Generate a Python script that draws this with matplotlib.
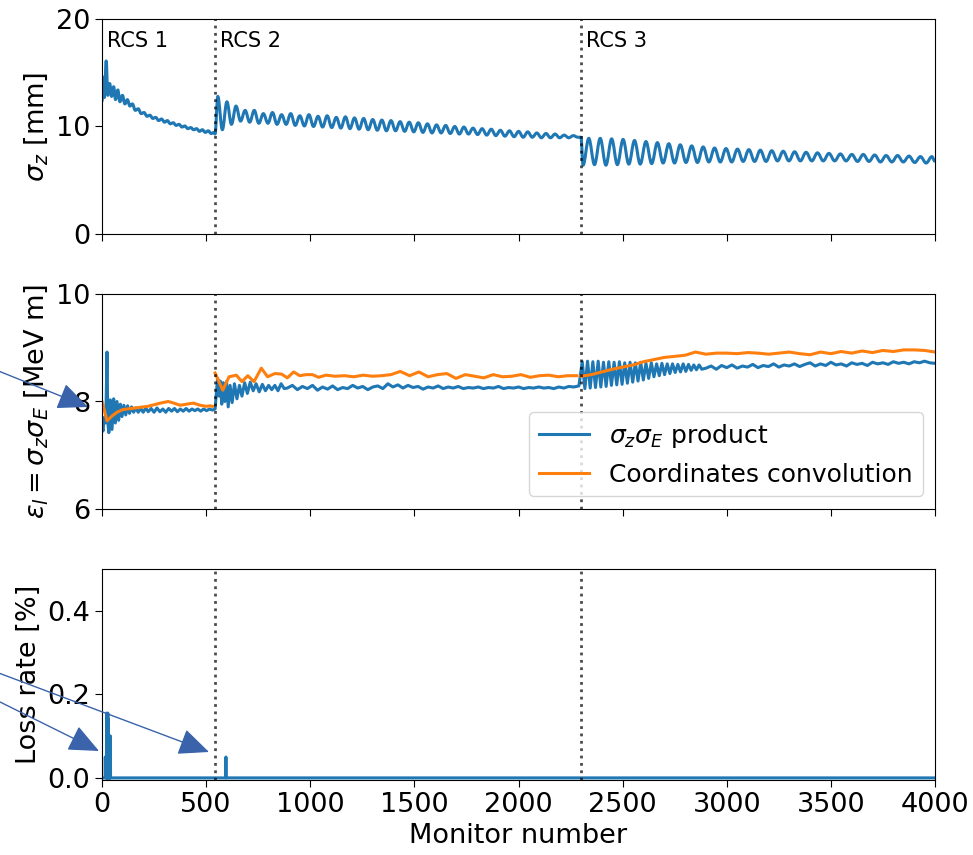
import numpy as np
import matplotlib
matplotlib.use('Agg')
import matplotlib.pyplot as plt
from matplotlib.patches import FancyArrowPatch, PathPatch
from matplotlib.path import Path

# ring boundaries (monitor number)
rcs_start = [0, 543, 2300]
rcs_names = ['RCS 1', 'RCS 2', 'RCS 3']

# sigma_z [mm], RCS 1 read point by point
sz1_x = [0, 6, 12, 20, 28, 37, 46, 56, 65, 76, 86, 98, 110, 122, 134, 146, 160, 174,
         188, 202, 216, 230, 244, 258, 272, 286, 300, 314, 328, 342, 356, 370, 384,
         398, 412, 426, 440, 454, 468, 482, 496, 510, 524, 538, 543]
sz1_y = [12.3, 14.6, 12.7, 16.1, 12.9, 14.0, 12.8, 13.7, 12.5, 13.4, 12.3, 12.9, 12.1,
         12.5, 11.9, 12.1, 11.5, 11.65, 11.2, 11.3, 10.95, 11.05, 10.75, 10.85, 10.55,
         10.7, 10.4, 10.55, 10.25, 10.35, 10.1, 10.2, 9.95, 10.05, 9.8, 9.9, 9.7, 9.8,
         9.55, 9.7, 9.45, 9.6, 9.35, 9.45, 9.3]
# RCS 2: oscillation extrema between monitors 556 and 2285
sz2_peaks = [12.8, 12.3, 11.9, 11.5, 11.5, 11.2, 11.3, 11.1, 11.2, 11.0, 11.1, 10.95, 11.0,
             10.85, 10.9, 10.8, 10.75, 10.65, 10.6, 10.55, 10.45, 10.4, 10.35, 10.25,
             10.15, 10.1, 10.0, 9.95, 9.85, 9.8, 9.75, 9.65, 9.6, 9.55, 9.5, 9.4, 9.35,
             9.3, 9.2, 9.15]
sz2_troughs = [9.7, 10.2, 10.5, 10.4, 10.3, 10.3, 10.2, 10.2, 10.1, 10.05, 10.0, 9.95, 9.9,
               9.85, 9.8, 9.75, 9.7, 9.65, 9.6, 9.6, 9.55, 9.5, 9.45, 9.4, 9.4, 9.35,
               9.3, 9.3, 9.25, 9.2, 9.15, 9.1, 9.05, 9.0, 9.0, 8.95, 8.95, 8.95, 8.95, 9.0]
# RCS 3: extrema between monitors 2310 and 3985
sz3_troughs = [6.4, 6.45, 6.4, 6.45, 6.5, 6.5, 6.55, 6.6, 6.6, 6.65, 6.65, 6.7, 6.7, 6.7,
               6.75, 6.75, 6.75, 6.8, 6.8, 6.8, 6.8, 6.8, 6.8, 6.8, 6.75, 6.75, 6.7, 6.7,
               6.7, 6.65, 6.6]
sz3_peaks = [8.9, 8.9, 8.85, 8.8, 8.7, 8.6, 8.5, 8.4, 8.3, 8.2, 8.1, 8.0, 7.95, 7.9, 7.85,
             7.8, 7.75, 7.7, 7.65, 7.6, 7.55, 7.5, 7.45, 7.4, 7.4, 7.35, 7.3, 7.3, 7.25,
             7.2, 7.2]

# longitudinal emittance, sigma_z*sigma_E product [MeV m]
em1_x = [0, 5, 10, 15, 20, 24, 28, 33, 40, 48, 56, 64, 72, 80, 88, 96, 105, 114, 123, 132,
         142, 152, 162, 174, 186, 198, 210, 222, 236, 250, 264, 278, 292, 306, 320, 334,
         348, 362, 376, 390, 404, 418, 432, 446, 460, 474, 488, 502, 516, 530, 543]
em1_y = [7.55, 7.45, 7.7, 7.6, 8.0, 8.92, 7.6, 7.42, 8.03, 7.48, 8.05, 7.6, 8.0, 7.65, 7.95,
         7.72, 7.93, 7.75, 7.92, 7.78, 7.9, 7.8, 7.88, 7.8, 7.87, 7.8, 7.88, 7.81, 7.87,
         7.8, 7.88, 7.81, 7.86, 7.8, 7.87, 7.82, 7.87, 7.81, 7.86, 7.82, 7.87, 7.82, 7.86,
         7.83, 7.86, 7.82, 7.86, 7.83, 7.86, 7.84, 7.86]
em2a_x = [548, 555, 562, 568, 575, 582, 590, 598, 606, 615, 625, 636, 648, 660, 672, 685,
          698, 712, 726, 740, 755, 770, 785, 800, 815, 830, 845, 860, 875]
em2a_y = [8.1, 8.43, 8.1, 8.38, 7.95, 8.35, 8.0, 8.37, 7.9, 8.3, 7.98, 8.33, 8.05, 8.3, 8.1,
          8.35, 8.15, 8.36, 8.2, 8.33, 8.18, 8.32, 8.2, 8.3, 8.22, 8.3, 8.2, 8.33, 8.24]
# RCS 2 from monitor 890 to 2290
em2b_y = [8.25, 8.3, 8.22, 8.28, 8.24, 8.3, 8.21, 8.27, 8.23, 8.29, 8.22, 8.26, 8.24, 8.3,
          8.25, 8.28, 8.22, 8.27, 8.29, 8.24, 8.33, 8.27, 8.31, 8.25, 8.3, 8.26, 8.28, 8.23,
          8.27, 8.25, 8.29, 8.24, 8.27, 8.25, 8.28, 8.24, 8.26, 8.25, 8.27, 8.24, 8.26,
          8.25, 8.28, 8.24, 8.26, 8.25, 8.27, 8.24, 8.26, 8.25, 8.27, 8.25, 8.26, 8.24,
          8.27, 8.25, 8.28, 8.27, 8.29]
# RCS 3 fast oscillation extrema, monitors 2306 to 2880
em3_peaks = [8.74, 8.75, 8.74, 8.75, 8.73, 8.74, 8.73, 8.74, 8.72, 8.73, 8.72, 8.73, 8.71,
             8.72, 8.70, 8.71, 8.70, 8.70, 8.69, 8.70, 8.69, 8.68, 8.68]
em3_troughs = [8.24, 8.25, 8.26, 8.27, 8.28, 8.30, 8.31, 8.32, 8.34, 8.36, 8.38, 8.40,
               8.43, 8.46, 8.48, 8.50, 8.52, 8.54, 8.55, 8.56, 8.58, 8.59, 8.60]
# RCS 3 from monitor 2900 to 4000
em3b_y = [8.62, 8.66, 8.6, 8.67, 8.63, 8.68, 8.62, 8.66, 8.64, 8.69, 8.63, 8.67, 8.65, 8.7,
          8.64, 8.68, 8.66, 8.7, 8.65, 8.69, 8.72, 8.66, 8.7, 8.67, 8.73, 8.68, 8.7, 8.66,
          8.72, 8.69, 8.71, 8.67, 8.73, 8.7, 8.72, 8.69, 8.74, 8.71, 8.73, 8.7, 8.74, 8.72,
          8.75, 8.72, 8.71]

# emittance from coordinates convolution
cv1_x = [0, 24, 48, 72, 100, 140, 180, 220, 250, 280, 318, 345, 375, 405, 439, 471, 500, 519, 530]
cv1_y = [8.0, 7.64, 7.73, 7.8, 7.85, 7.87, 7.89, 7.91, 7.94, 7.97, 8.0, 7.97, 7.93, 7.95,
         7.97, 7.93, 7.91, 7.92, 7.91]
cv2_x = [543, 580, 610, 645, 672, 700, 730, 765, 795, 830, 862, 890, 920, 950, 980, 1010,
         1040, 1075]
cv2_y = [8.53, 8.21, 8.46, 8.49, 8.37, 8.48, 8.37, 8.62, 8.46, 8.52, 8.51, 8.44, 8.55, 8.48,
         8.5, 8.5, 8.45, 8.49]
# RCS 2 from monitor 1120 to 2280
cv2b_y = [8.47, 8.48, 8.46, 8.49, 8.47, 8.48, 8.5, 8.56, 8.48, 8.55, 8.46, 8.5, 8.52, 8.43,
          8.5, 8.47, 8.44, 8.5, 8.46, 8.47, 8.5, 8.45, 8.48, 8.49, 8.46, 8.48, 8.48]
# RCS 3 from monitor 2300 to 4000
cv3_y = [8.47, 8.5, 8.55, 8.6, 8.64, 8.68, 8.74, 8.78, 8.82, 8.84, 8.86, 8.92, 8.88, 8.9,
         8.9, 8.89, 8.91, 8.9, 8.88, 8.9, 8.92, 8.89, 8.87, 8.92, 8.89, 8.93, 8.9, 8.94,
         8.91, 8.95, 8.93, 8.96, 8.96, 8.95, 8.92]

# loss rate [%]: zero except at these monitors
loss_mon = [16, 22, 24, 26, 28, 30, 36, 38, 40, 595]
loss_val = [0.05, 0.155, 0.15, 0.12, 0.155, 0.14, 0.10, 0.10, 0.10, 0.05]


def interleave(a, b):
    return np.column_stack((a, b)).ravel()


def wave_path(x, y, c=0.36):
    # curve through the extrema with flat tangents, so oscillations look rounded
    verts = [(x[0], y[0])]
    codes = [Path.MOVETO]
    for i in range(1, len(x)):
        dx = x[i] - x[i - 1]
        verts += [(x[i - 1] + c * dx, y[i - 1]), (x[i] - c * dx, y[i]), (x[i], y[i])]
        codes += [Path.CURVE4] * 3
    return Path(verts, codes)


sz_x = np.concatenate([sz1_x, np.linspace(556, 2285, 80), [2300],
                       np.linspace(2310, 3985, 62), [4000]])
sz_y = np.concatenate([sz1_y, interleave(sz2_peaks, sz2_troughs), [9.0],
                       interleave(sz3_troughs, sz3_peaks), [6.75]])

em_x = np.concatenate([em1_x, em2a_x, np.linspace(890, 2290, len(em2b_y)),
                       np.linspace(2306, 2880, 46), np.linspace(2900, 4000, len(em3b_y))])
em_y = np.concatenate([em1_y, em2a_y, em2b_y, interleave(em3_peaks, em3_troughs), em3b_y])

cv_x = np.concatenate([cv1_x, [np.nan], cv2_x, np.linspace(1120, 2280, len(cv2b_y)),
                       [np.nan], np.linspace(2300, 4000, len(cv3_y))])
cv_y = np.concatenate([cv1_y, [np.nan], cv2_y, cv2b_y, [np.nan], cv3_y])

monitor = np.arange(0, 4001)
loss = np.zeros(len(monitor))
loss[loss_mon] = loss_val

plt.rcParams['font.size'] = 19.5

W, H = 973, 855
fig = plt.figure(figsize=(W / 100, H / 100), dpi=100)
left, width = 102 / W, 833 / W
ax1 = fig.add_axes([left, 1 - 234 / H, width, 215 / H])
ax2 = fig.add_axes([left, 1 - 509 / H, width, 215 / H], sharex=ax1)
ax3 = fig.add_axes([left, 1 - 780 / H, width, 211 / H], sharex=ax1)

lw = 2.2
ax1.add_patch(PathPatch(wave_path(sz_x, sz_y), fill=False, edgecolor='tab:blue', lw=lw,
                        joinstyle='round', capstyle='butt'))
ax2.plot(em_x, em_y, color='tab:blue', lw=lw, label=r'$\sigma_z\sigma_E$ product')
ax2.plot(cv_x, cv_y, color='tab:orange', lw=lw, label='Coordinates convolution')
ax3.plot(monitor, loss, color='tab:blue', lw=lw)

for ax in (ax1, ax2, ax3):
    for xb in rcs_start[1:]:
        ax.axvline(xb, color='k', ls=':', lw=2, alpha=0.7)
    ax.tick_params(direction='out', length=5)

for xb, name in zip(rcs_start, rcs_names):
    ax1.text(xb + 25, 18.9, name, fontsize=15, va='top', ha='left')

ax1.set_xlim(0, 4000)
ax1.set_ylim(0, 20)
ax1.set_yticks([0, 10, 20])
ax1.set_ylabel(r'$\sigma_z$ [mm]')
ax1.tick_params(labelbottom=False)

ax2.set_ylim(6, 10)
ax2.set_yticks([6, 8, 10])
ax2.set_ylabel(r'$\epsilon_l = \sigma_z\sigma_E$ [MeV m]')
ax2.tick_params(labelbottom=False)
ax2.legend(loc='lower right', fontsize=18)

ax3.set_ylim(-0.005, 0.5)
ax3.set_yticks([0.0, 0.2, 0.4])
ax3.set_xticks(np.arange(0, 4001, 500))
ax3.set_ylabel('Loss rate [%]')
ax3.set_xlabel('Monitor number')

# pointer arrows drawn over the figure (pixel positions from the top-left corner)
arrows = [((-4, 370), (88, 407)), ((-4, 672), (209, 752)), ((-4, 700), (99, 751))]
for (x0, y0), (x1, y1) in arrows:
    fig.add_artist(FancyArrowPatch((x0 / W, 1 - y0 / H), (x1 / W, 1 - y1 / H),
                                   transform=fig.transFigure, color='#3a63ab', lw=1,
                                   arrowstyle='-|>,head_length=0.5,head_width=0.22',
                                   mutation_scale=38, shrinkA=0, shrinkB=0))

fig.savefig('out.png', dpi=100)
